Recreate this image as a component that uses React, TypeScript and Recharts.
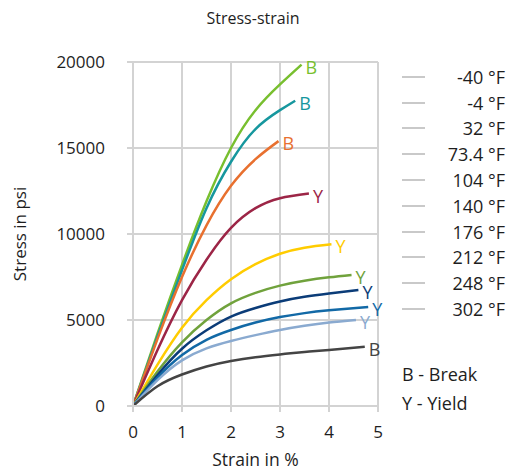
import { LineChart, Line, XAxis, YAxis, CartesianGrid, Legend, LabelList } from 'recharts';

const FONT = '"Open Sans", "Noto Sans", sans-serif';
const TEXT = '#1e1e1e';
const GRID = '#d3d3d3';

// series names, colours and end-point tag (B = break, Y = yield)
const temps = ['-40 °F', '-4 °F', '32 °F', '73.4 °F', '104 °F', '140 °F', '176 °F', '212 °F', '248 °F', '302 °F'];
const colors = ['#78bf2f', '#16979e', '#e8702f', '#9c2546', '#ffcc00', '#70a23c', '#0b3c78', '#1269a6', '#8aaad0', '#444444'];
const endTags = ['B', 'B', 'B', 'Y', 'Y', 'Y', 'Y', 'Y', 'Y', 'B'];

// [strain %, stress psi]
const sM40: [number, number][] = [[0, 0], [0.5, 4200], [1, 8200], [1.5, 11900], [2, 15000], [2.5, 17200], [3, 18700], [3.44, 19850]];
const sM4: [number, number][] = [[0, 0], [0.5, 4050], [1, 7900], [1.5, 11500], [2, 14200], [2.5, 16100], [3, 17200], [3.31, 17750]];
const s32: [number, number][] = [[0, 0], [0.5, 3900], [1, 7500], [1.5, 10500], [2, 12800], [2.5, 14350], [2.97, 15400]];
const s73: [number, number][] = [[0, 0], [0.5, 3250], [1, 6150], [1.5, 8500], [2, 10350], [2.5, 11500], [3, 12080], [3.59, 12350]];
const s104: [number, number][] = [[0, 0], [0.5, 2400], [1, 4550], [1.5, 6150], [2, 7370], [2.5, 8250], [3, 8850], [3.5, 9200], [4.05, 9400]];
const s140: [number, number][] = [[0, 0], [0.5, 2000], [1, 3700], [1.5, 5000], [2, 5970], [2.5, 6580], [3, 7000], [3.5, 7280], [4, 7480], [4.46, 7620]];
const s176: [number, number][] = [[0, 0], [0.5, 1800], [1, 3330], [1.5, 4400], [2, 5200], [2.5, 5700], [3, 6080], [3.5, 6350], [4, 6540], [4.6, 6740]];
const s212: [number, number][] = [[0, 0], [0.5, 1650], [1, 2960], [1.5, 3850], [2, 4420], [2.5, 4850], [3, 5170], [3.5, 5400], [4, 5560], [4.8, 5750]];
const s248: [number, number][] = [[0, 0], [0.5, 1500], [1, 2650], [1.5, 3350], [2, 3780], [2.5, 4120], [3, 4420], [3.5, 4660], [4, 4850], [4.55, 5000]];
const s302: [number, number][] = [[0, 0], [0.5, 1150], [1, 1830], [1.5, 2300], [2, 2620], [2.5, 2840], [3, 3000], [3.5, 3140], [4, 3260], [4.73, 3450]];

const curves = [sM40, sM4, s32, s73, s104, s140, s176, s212, s248, s302];

const xTicks = [0, 1, 2, 3, 4, 5];
const yTicks = [0, 5000, 10000, 15000, 20000];

const series = curves.map((pts, i) => ({
  name: temps[i],
  color: colors[i],
  data: pts.map(([x, y], j) => ({ x, y, tag: j === pts.length - 1 ? endTags[i] : undefined })),
}));

function EndTag(color: string) {
  return (props: any) => {
    if (!props.value) return null;
    return (
      <text x={props.x + 4} y={props.y + 9} fill={color} fontSize={18} fontFamily={FONT}>
        {props.value}
      </text>
    );
  };
}

// legend keeps the series order, all swatches grey like the original
function renderLegend(props: any) {
  const items = [...(props.payload || [])].sort((a: any, b: any) => temps.indexOf(a.value) - temps.indexOf(b.value));
  return (
    <div style={{ fontFamily: FONT, fontSize: 18, color: TEXT }}>
      {items.map((it: any) => (
        <div key={it.value} style={{ display: 'flex', alignItems: 'center', height: 25.8 }}>
          <span style={{ display: 'inline-block', width: 23, height: 2, backgroundColor: '#c9c9c9' }} />
          <span style={{ flex: 1, textAlign: 'right' }}>{it.value}</span>
        </div>
      ))}
    </div>
  );
}

export default function App() {
  return (
    <div style={{ position: 'absolute', left: 0, top: 0, width: 513, height: 471, background: '#fff' }}>
      <div style={{ position: 'absolute', top: 7, left: 0, width: 506, textAlign: 'center', fontFamily: FONT, fontSize: 16, color: TEXT }}>
        Stress-strain
      </div>
      <LineChart width={513} height={471} margin={{ top: 62, right: 135, bottom: 25, left: 8 }}>
        <CartesianGrid stroke={GRID} strokeWidth={2} />
        <XAxis
          dataKey="x"
          type="number"
          domain={[0, 5]}
          ticks={xTicks}
          height={40}
          stroke={GRID}
          strokeWidth={2}
          tickSize={6}
          tickMargin={14}
          tick={{ fill: TEXT, fontSize: 17, fontFamily: FONT }}
          label={{ value: 'Strain in %', position: 'insideBottom', offset: -20, fill: TEXT, fontSize: 17.5, fontFamily: FONT }}
          allowDataOverflow
        />
        <YAxis
          type="number"
          domain={[0, 20000]}
          ticks={yTicks}
          width={125}
          stroke={GRID}
          strokeWidth={2}
          tickSize={6}
          tickMargin={22}
          tick={{ fill: TEXT, fontSize: 17, fontFamily: FONT }}
          label={{ value: 'Stress in psi', angle: -90, position: 'insideLeft', offset: 12, fill: TEXT, fontSize: 17, fontFamily: FONT, style: { textAnchor: 'middle' } }}
        />
        <Legend
          layout="vertical"
          align="center"
          verticalAlign="middle"
          content={renderLegend}
          wrapperStyle={{ position: 'absolute', left: 402, top: 64, width: 103 }}
        />
        {series.map((s) => (
          <Line
            key={s.name}
            name={s.name}
            data={s.data}
            dataKey="y"
            type="natural"
            stroke={s.color}
            strokeWidth={2.5}
            dot={false}
            activeDot={false}
            isAnimationActive={false}
          >
            <LabelList dataKey="tag" content={EndTag(s.color)} />
          </Line>
        ))}
      </LineChart>
      <div style={{ position: 'absolute', left: 402, top: 360, fontFamily: FONT, fontSize: 18, color: TEXT, lineHeight: '29px' }}>
        <div>B - Break</div>
        <div>Y - Yield</div>
      </div>
    </div>
  );
}
